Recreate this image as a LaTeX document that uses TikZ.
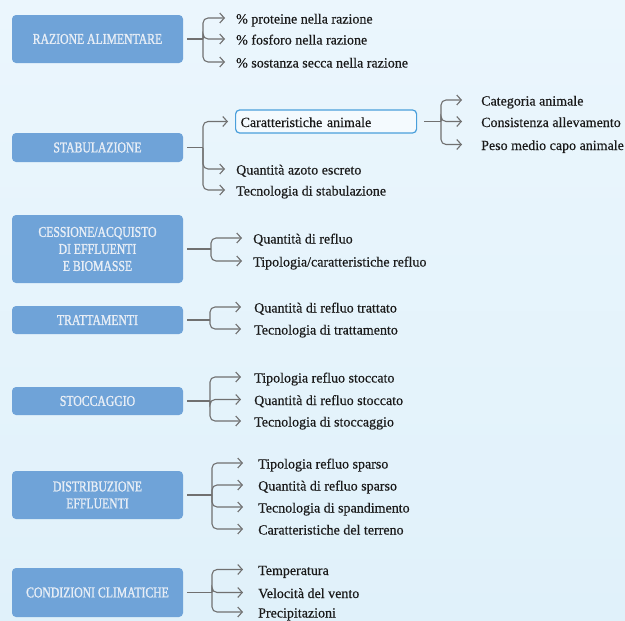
\documentclass[tikz,border=0pt]{standalone}
\usepackage{fontspec}
\setmainfont{Liberation Serif}[FakeBold=0.4]
\newfontfamily\boxfont{Liberation Serif}[FakeStretch=0.78,FakeBold=1.2]
\usetikzlibrary{arrows.meta}
\definecolor{bgtop}{HTML}{EBF6FD}
\definecolor{bgbot}{HTML}{E0F1FA}
\definecolor{boxblue}{HTML}{6FA3D8}
\definecolor{boxtext}{HTML}{E8EEF6}
\definecolor{conncol}{HTML}{707070}
\definecolor{itemtext}{HTML}{1A1A1A}
\definecolor{hiborder}{HTML}{4A9FDB}
\definecolor{hifill}{HTML}{F4FAFE}
\begin{document}
\begin{tikzpicture}[x=1pt,y=-1pt,
  catbox/.style={fill=boxblue, rounded corners=4pt, minimum width=171pt, text=boxtext,
    font=\boxfont\fontsize{15}{17}\selectfont, align=center, inner sep=0pt},
  item/.style={anchor=west, inner sep=0pt, text=itemtext, text height=12.5pt, text depth=1.5pt,
    font=\fontsize{14}{16}\selectfont},
  hibox/.style={draw=hiborder, line width=1.2pt, fill=hifill, rounded corners=4pt, anchor=west,
    minimum width=181pt, minimum height=23pt, text width=171pt, inner xsep=5pt, align=left,
    text height=12.5pt, text depth=1.5pt,
    text=itemtext, font=\fontsize{14}{16}\selectfont},
  stem/.style={draw=conncol, line width=1.3pt, shorten <=4pt},
  arr/.style={draw=conncol, line width=1.1pt, rounded corners=5pt,
    -{Straight Barb[length=4.5pt,width=10pt]}},
]
\shade[top color=bgtop, bottom color=bgbot] (0,0) rectangle (625,621);
\useasboundingbox (0,0) rectangle (625,621);

% RAZIONE ALIMENTARE
\node[catbox, minimum height=48pt] (b1) at (97.5,39) {RAZIONE ALIMENTARE};
\coordinate (j1) at (203,39);
\node[item] (i11) at (236,18) {\% proteine nella razione};
\node[item] (i12) at (236,39) {\% fosforo nella razione};
\node[item] (i13) at (236,62) {\% sostanza secca nella razione};
\draw[stem] (b1) -- (j1);
\foreach \n in {i11,i12,i13} \draw[arr] (j1) |- ([xshift=-11pt]\n.west);

% STABULAZIONE
\node[catbox, minimum height=29pt] (b2) at (97.5,147.5) {STABULAZIONE};
\coordinate (j2) at (203,147.5);
\node[hibox] (car) at (235,121.5) {Caratteristiche animale};
\node[item] (i22) at (236,169) {Quantità azoto escreto};
\node[item] (i23) at (236,190) {Tecnologia di stabulazione};
\draw[stem] (b2) -- (j2);
\draw[arr] (j2) |- ([xshift=-7pt]car.west);
\foreach \n in {i22,i23} \draw[arr] (j2) |- ([xshift=-11pt]\n.west);

\coordinate (jc) at (441,121.5);
\node[item] (c1) at (481,100) {Categoria animale};
\node[item] (c2) at (481,121.5) {Consistenza allevamento};
\node[item] (c3) at (481,144.5) {Peso medio capo animale};
\draw[stem, shorten <=7pt] (car) -- (jc);
\foreach \n in {c1,c2,c3} \draw[arr] (jc) |- ([xshift=-19pt]\n.west);

% CESSIONE
\node[catbox, minimum height=68pt] (b3) at (97.5,249) {CESSIONE/ACQUISTO\\DI EFFLUENTI\\E BIOMASSE};
\coordinate (j3) at (211,249);
\node[item] (i31) at (253,238) {Quantità di refluo};
\node[item] (i32) at (253,261) {Tipologia/caratteristiche refluo};
\draw[stem] (b3) -- (j3);
\foreach \n in {i31,i32} \draw[arr] (j3) |- ([xshift=-11pt]\n.west);

% TRATTAMENTI
\node[catbox, minimum height=28pt] (b4) at (97.5,320) {TRATTAMENTI};
\coordinate (j4) at (210,320);
\node[item] (i41) at (254,307) {Quantità di refluo trattato};
\node[item] (i42) at (254,329) {Tecnologia di trattamento};
\draw[stem] (b4) -- (j4);
\foreach \n in {i41,i42} \draw[arr] (j4) |- ([xshift=-13pt]\n.west);

% STOCCAGGIO
\node[catbox, minimum height=28pt] (b5) at (97.5,401) {STOCCAGGIO};
\coordinate (j5) at (210,401);
\node[item] (i51) at (254,377) {Tipologia refluo stoccato};
\node[item] (i52) at (254,399.5) {Quantità di refluo stoccato};
\node[item] (i53) at (254,421) {Tecnologia di stoccaggio};
\draw[stem] (b5) -- (j5);
\foreach \n in {i51,i52,i53} \draw[arr] (j5) |- ([xshift=-13pt]\n.west);

% DISTRIBUZIONE
\node[catbox, minimum height=48pt] (b6) at (97.5,495) {DISTRIBUZIONE\\EFFLUENTI};
\coordinate (j6) at (212,495);
\node[item] (i61) at (258,463) {Tipologia refluo sparso};
\node[item] (i62) at (258,485) {Quantità di refluo sparso};
\node[item] (i63) at (258,507) {Tecnologia di spandimento};
\node[item] (i64) at (258,529) {Caratteristiche del terreno};
\draw[stem] (b6) -- (j6);
\foreach \n in {i61,i62,i63,i64} \draw[arr] (j6) |- ([xshift=-15pt]\n.west);

% CONDIZIONI CLIMATICHE
\node[catbox, minimum height=49pt] (b7) at (97.5,592.5) {CONDIZIONI CLIMATICHE};
\coordinate (j7) at (212,592.5);
\node[item] (i71) at (258,569.5) {Temperatura};
\node[item] (i72) at (258,592.5) {Velocità del vento};
\node[item] (i73) at (258,612) {Precipitazioni};
\draw[stem] (b7) -- (j7);
\foreach \n in {i71,i72,i73} \draw[arr] (j7) |- ([xshift=-15pt]\n.west);
\end{tikzpicture}
\end{document}
